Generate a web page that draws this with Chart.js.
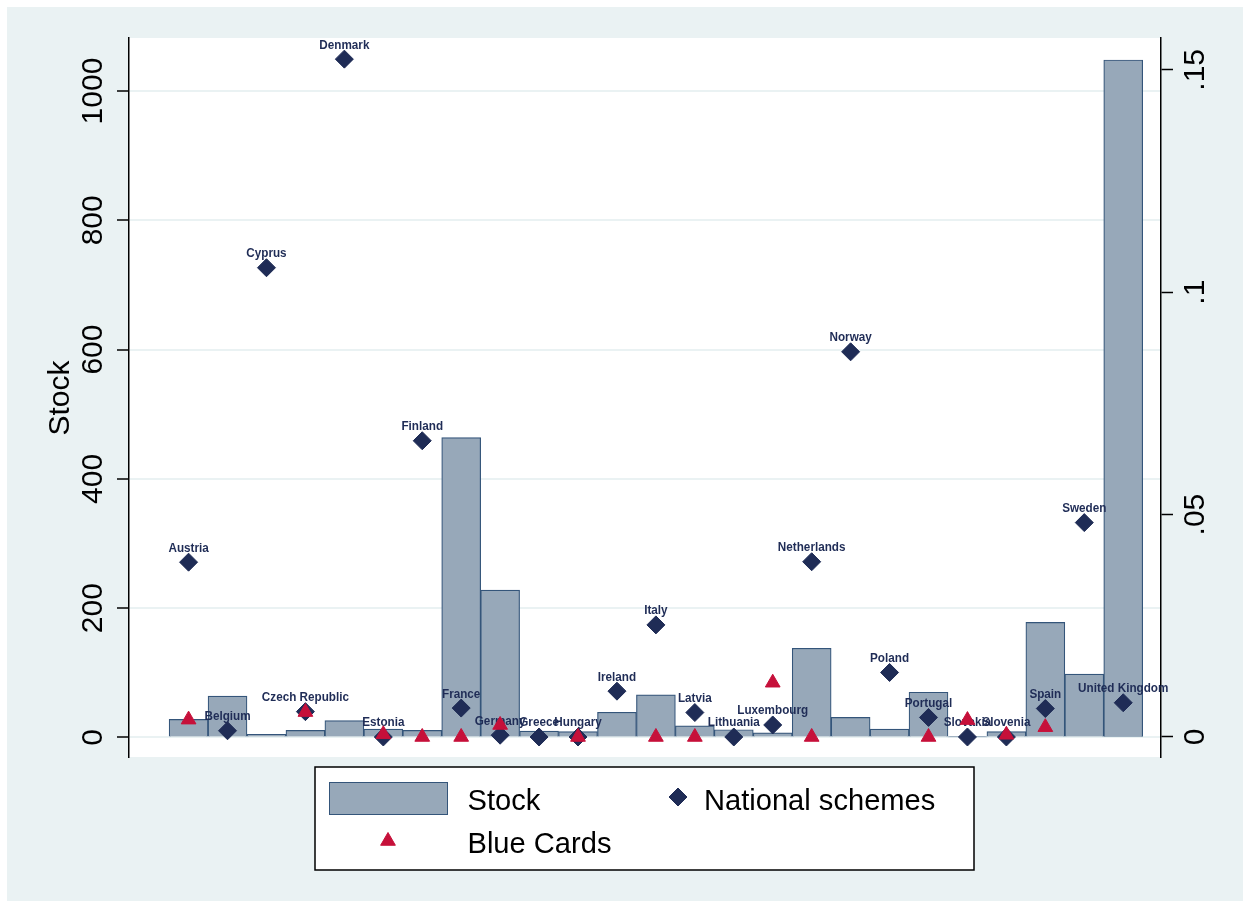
<!DOCTYPE html>
<html>
<head>
<meta charset="utf-8">
<script src="https://cdn.jsdelivr.net/npm/chart.js@4.4.1/dist/chart.umd.min.js"></script>
<style>
  html, body { margin: 0; padding: 0; background: #fff; }
  canvas { display: block; }
</style>
</head>
<body>
<canvas id="chart" width="1250" height="909"></canvas>
<script>
// data
const countries = ['Austria', 'Belgium', 'Cyprus', 'Czech Republic', 'Denmark', 'Estonia', 'Finland',
  'France', 'Germany', 'Greece', 'Hungary', 'Ireland', 'Italy', 'Latvia', 'Lithuania', 'Luxembourg',
  'Netherlands', 'Norway', 'Poland', 'Portugal', 'Slovakia', 'Slovenia', 'Spain', 'Sweden', 'United Kingdom'];
const stock = [28, 64, 5, 11, 26, 13, 11, 464, 228, 10, 9, 39, 66, 18, 12, 7, 138, 31, 13, 70, 1, 9, 178, 98, 1048];
const nationalSchemes = [0.0393, 0.0014, 0.1055, 0.0057, 0.1524, 0, 0.0666, 0.0065, 0.0004, 0, 0, 0.0103,
  0.0252, 0.0055, 0, 0.0027, 0.0394, 0.0866, 0.0145, 0.0044, 0, 0, 0.0064, 0.0482, 0.0077];
const blueCards = [0.0039, null, null, 0.0056, null, 0.0006, 0, 0, 0.0027, null, 0, null,
  0, 0, null, 0.0122, 0, null, null, 0, 0.0038, 0.0005, 0.0022, null, null];
const leftTicks = [0, 200, 400, 600, 800, 1000];
const rightTicks = [0, 0.05, 0.1, 0.15];
const rightTickLabels = ['0', '.05', '.1', '.15'];

const NAVY = '#1f2c56';
const RED = '#c6103a';
const BAR_FILL = '#97a8b9';
const BAR_LINE = '#34557a';
const BG = '#eaf2f3';
const FONT = '"Liberation Sans", Arial, Helvetica, sans-serif';

const asPoints = arr => arr.map((v, i) => ({ x: i + 1, y: v }));

// stata-like frame, rotated tick labels, point labels and legend
const stataLook = {
  id: 'stataLook',
  beforeDraw(chart) {
    const { ctx, chartArea: a } = chart;
    ctx.save();
    ctx.fillStyle = '#fff';
    ctx.fillRect(0, 0, chart.width, chart.height);
    ctx.fillStyle = BG;
    ctx.fillRect(7, 7, 1236, 894);
    ctx.fillStyle = '#fff';
    ctx.fillRect(a.left, a.top, a.right - a.left, a.bottom - a.top);
    ctx.restore();
  },
  afterDatasetDraw(chart, args) {
    if (args.index !== 1) return;
    const ctx = chart.ctx;
    ctx.save();
    ctx.font = 'bold 13px ' + FONT;
    ctx.fillStyle = NAVY;
    ctx.textAlign = 'center';
    ctx.textBaseline = 'alphabetic';
    args.meta.data.forEach((pt, i) => {
      ctx.save();
      ctx.translate(pt.x, pt.y - 10.5);
      ctx.scale(0.9, 1);
      ctx.fillText(countries[i], 0, 0);
      ctx.restore();
    });
    ctx.restore();
  },
  afterDraw(chart) {
    const ctx = chart.ctx;
    const yL = chart.scales.y, yR = chart.scales.y2;
    ctx.save();
    ctx.fillStyle = '#000';
    ctx.font = '30px ' + FONT;
    ctx.textAlign = 'center';
    ctx.textBaseline = 'alphabetic';
    const vtext = (txt, x, y) => {
      ctx.save();
      ctx.translate(x, y);
      ctx.rotate(-Math.PI / 2);
      ctx.fillText(txt, 0, 0);
      ctx.restore();
    };
    leftTicks.forEach(v => vtext(String(v), 101.5, yL.getPixelForValue(v)));
    rightTicks.forEach((v, i) => vtext(rightTickLabels[i], 1204, yR.getPixelForValue(v)));
    vtext('Stock', 68.5, 398);

    // legend
    ctx.fillStyle = '#fff';
    ctx.fillRect(315, 767, 659, 103);
    ctx.strokeStyle = '#000';
    ctx.lineWidth = 1.5;
    ctx.strokeRect(315, 767, 659, 103);
    const ds = chart.data.datasets;
    ctx.fillStyle = ds[0].backgroundColor;
    ctx.fillRect(329.5, 782.5, 118, 32);
    ctx.strokeStyle = ds[0].borderColor;
    ctx.lineWidth = 1;
    ctx.strokeRect(329.5, 782.5, 118, 32);

    const marker = (d, x, y, r) => {
      ctx.fillStyle = d.backgroundColor;
      ctx.strokeStyle = d.borderColor;
      ctx.lineWidth = 1;
      Chart.helpers.drawPoint(ctx, { pointStyle: d.pointStyle, radius: r, rotation: 0, borderWidth: 1 }, x, y);
    };
    marker(ds[1], 678, 797, 9);
    marker(ds[2], 388, 841, 8.5);

    ctx.fillStyle = '#000';
    ctx.textAlign = 'left';
    const ltext = (txt, x, y) => {
      ctx.save();
      ctx.translate(x, y);
      ctx.scale(0.97, 1);
      ctx.fillText(txt, 0, 0);
      ctx.restore();
    };
    ltext(ds[0].label, 467.5, 810);
    ltext(ds[1].label, 704, 810);
    ltext(ds[2].label, 467.5, 853);
    ctx.restore();
  }
};

new Chart(document.getElementById('chart'), {
  type: 'bar',
  data: {
    datasets: [
      {
        label: 'Stock',
        data: asPoints(stock),
        yAxisID: 'y',
        backgroundColor: BAR_FILL,
        borderColor: BAR_LINE,
        borderWidth: 1.2,
        barPercentage: 1,
        categoryPercentage: 1,
        order: 3
      },
      {
        type: 'scatter',
        label: 'National schemes',
        data: asPoints(nationalSchemes),
        yAxisID: 'y2',
        pointStyle: 'rectRot',
        pointRadius: 9,
        borderWidth: 1,
        backgroundColor: NAVY,
        borderColor: NAVY,
        order: 2
      },
      {
        type: 'scatter',
        label: 'Blue Cards',
        data: asPoints(blueCards),
        yAxisID: 'y2',
        pointStyle: 'triangle',
        pointRadius: 8.5,
        borderWidth: 1,
        backgroundColor: RED,
        borderColor: RED,
        order: 1
      }
    ]
  },
  options: {
    responsive: false,
    animation: false,
    devicePixelRatio: 1,
    layout: { padding: { left: 0, right: 0, top: 38, bottom: 152 } },
    plugins: { legend: { display: false }, tooltip: { enabled: false } },
    scales: {
      x: {
        type: 'linear',
        min: -0.53,
        max: 25.97,
        bounds: 'data',
        offset: false,
        grid: { offset: false },
        display: false
      },
      y: {
        position: 'left',
        min: -30.2,
        max: 1082,
        bounds: 'data',
        afterBuildTicks: s => { s.ticks = leftTicks.map(v => ({ value: v })); },
        afterFit: s => { s.width = 129; },
        ticks: { display: false },
        grid: { color: BG, lineWidth: 2, drawTicks: true, tickLength: 12, tickColor: '#000', tickWidth: 1.5 },
        border: { display: true, color: '#000', width: 1.5 }
      },
      y2: {
        position: 'right',
        min: -0.0045,
        max: 0.15715,
        bounds: 'data',
        afterBuildTicks: s => { s.ticks = rightTicks.map(v => ({ value: v })); },
        afterFit: s => { s.width = 89; },
        ticks: { display: false },
        grid: { drawOnChartArea: false, drawTicks: true, tickLength: 12, tickColor: '#000', tickWidth: 1.5 },
        border: { display: true, color: '#000', width: 1.5 }
      }
    }
  },
  plugins: [stataLook]
});
</script>
</body>
</html>
